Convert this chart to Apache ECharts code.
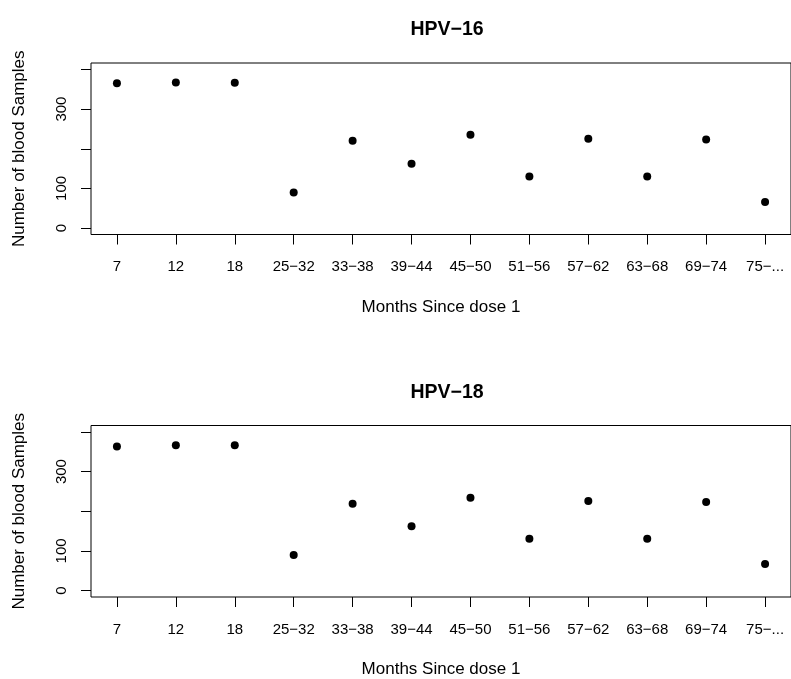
<!DOCTYPE html>
<html>
<head>
<meta charset="utf-8">
<script src="https://cdn.jsdelivr.net/npm/echarts@6/dist/echarts.min.js"></script>
<style>
  html, body { margin: 0; padding: 0; background: #fff; }
  #chart { width: 791px; height: 679px; }
</style>
</head>
<body>
<div id="chart"></div>
<script>
// Sampling windows (months since dose 1)
const categories = ['7', '12', '18', '25\u221232', '33\u221238', '39\u221244', '45\u221250',
  '51\u221256', '57\u221262', '63\u221268', '69\u221274', '75\u2212...'];
// Number of blood samples per window
const hpv16 = [365, 367, 366, 90, 220, 162, 235, 130, 225, 130, 223, 66];
const hpv18 = [363, 366, 366, 90, 219, 162, 234, 131, 226, 131, 223, 67];
// Y-axis tick marks and the subset that carries labels
const yTicks = [0, 100, 200, 300, 400];
const yTickLabels = [0, 100, 300];
const panelTitles = ['HPV\u221216', 'HPV\u221218'];

const FONT = '"Liberation Sans", Arial, Helvetica, sans-serif';
const positions = categories.map((_, i) => i + 1);

function xAxisFor(gridIndex) {
  return {
    type: 'value', gridIndex,
    min: 0.56, max: 12.44,
    name: 'Months Since dose 1', nameLocation: 'middle', nameGap: 64,
    nameTextStyle: { color: '#000', fontFamily: FONT, fontSize: 17 },
    axisLine: { show: false, onZero: false },
    splitLine: { show: false },
    axisTick: { show: true, customValues: positions, length: 10, lineStyle: { color: '#000' } },
    axisLabel: {
      show: true, customValues: positions, margin: 25,
      color: '#000', fontFamily: FONT, fontSize: 15,
      formatter: v => categories[Math.round(v) - 1] || ''
    }
  };
}

function yAxisFor(gridIndex) {
  return {
    type: 'value', gridIndex,
    min: -16, max: 416,
    name: 'Number of blood Samples', nameLocation: 'middle', nameGap: 63,
    nameTextStyle: { color: '#000', fontFamily: FONT, fontSize: 17 },
    axisLine: { show: false, onZero: false },
    splitLine: { show: false },
    axisTick: { show: true, customValues: yTicks, length: 10, lineStyle: { color: '#000' } },
    axisLabel: {
      show: true, customValues: yTickLabels, rotate: 90, margin: 22,
      color: '#000', fontFamily: FONT, fontSize: 15
    }
  };
}

const gridBase = { left: 91, width: 703, height: 171.5, show: true, borderColor: '#000', borderWidth: 1, backgroundColor: 'transparent' };

const option = {
  backgroundColor: '#fff',
  animation: false,
  title: panelTitles.map((t, i) => ({
    text: t, left: 442, top: i === 0 ? 15 : 378, textAlign: 'center',
    textStyle: { color: '#000', fontFamily: FONT, fontSize: 19.5, fontWeight: 'bold' }
  })),
  grid: [
    Object.assign({ top: 63 }, gridBase),
    Object.assign({ top: 425.5 }, gridBase)
  ],
  xAxis: [xAxisFor(0), xAxisFor(1)],
  yAxis: [yAxisFor(0), yAxisFor(1)],
  series: [hpv16, hpv18].map((vals, i) => ({
    type: 'scatter', xAxisIndex: i, yAxisIndex: i,
    symbol: 'circle', symbolSize: 8,
    itemStyle: { color: '#000', opacity: 1 },
    data: vals.map((v, k) => [positions[k], v])
  }))
};

echarts.init(document.getElementById('chart'), null, { renderer: 'canvas' }).setOption(option);
</script>
</body>
</html>
